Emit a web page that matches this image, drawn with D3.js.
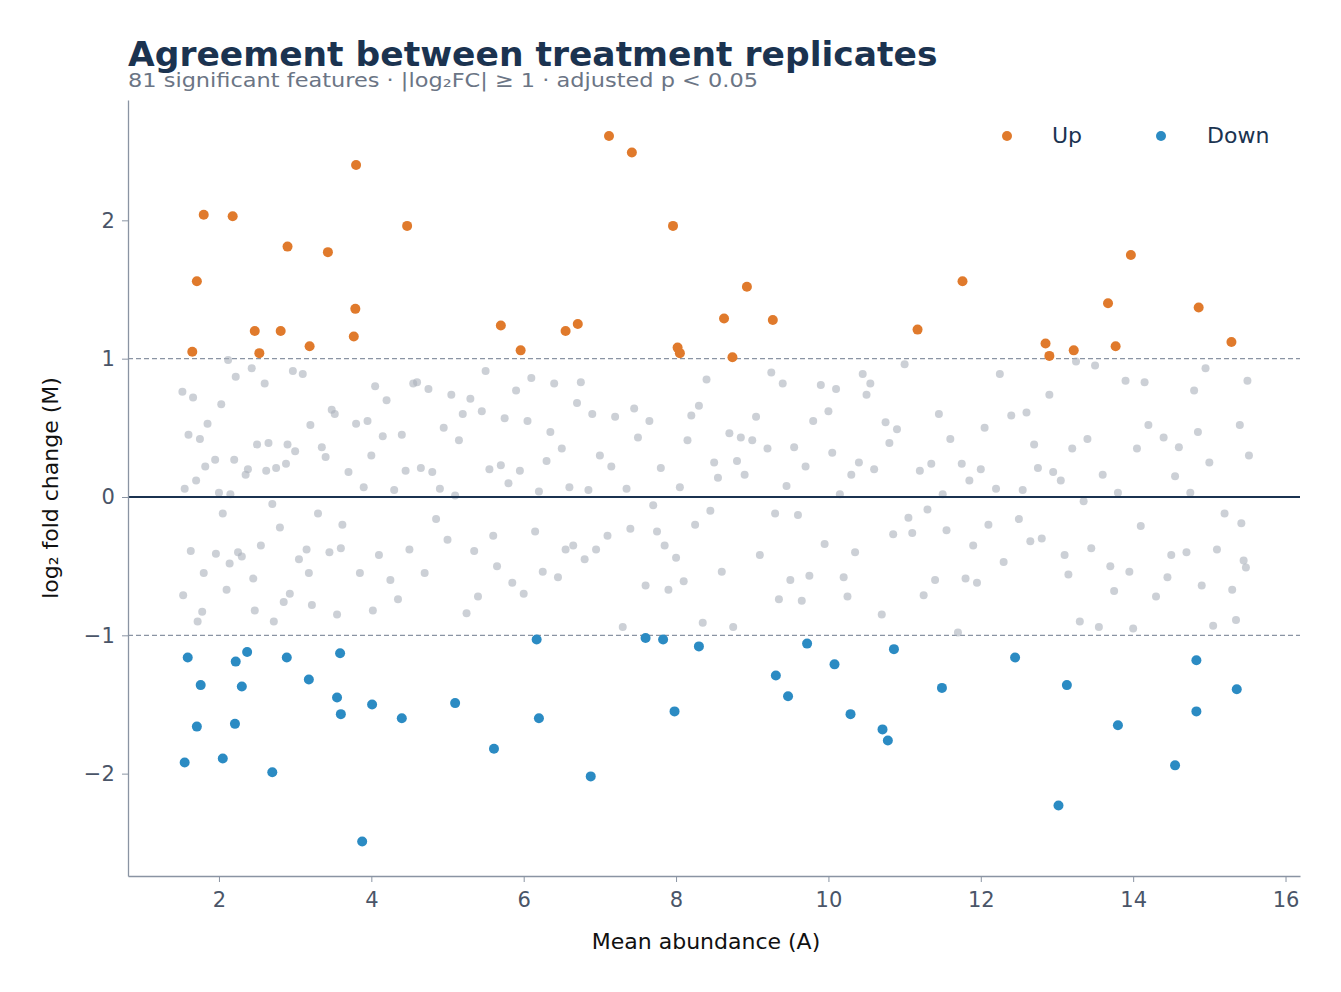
<!DOCTYPE html>
<html><head><meta charset="utf-8">
<script src="https://cdn.jsdelivr.net/npm/d3@7"></script>
<style>body{margin:0;background:#fff;font-family:"DejaVu Sans",sans-serif}</style>
</head><body><svg id="c" width="1341" height="992"></svg>
<script>
const upPts=[[1.80,2.04],[2.18,2.03],[1.71,1.56],[1.65,1.05],[2.47,1.20],[2.53,1.04],[2.81,1.20],[2.90,1.81],[3.19,1.09],[3.43,1.77],[3.80,2.40],[3.79,1.36],[3.77,1.16],[4.47,1.96],[5.70,1.24],[5.96,1.06],[6.55,1.20],[6.71,1.25],[7.12,2.61],[7.42,2.49],[7.96,1.96],[8.02,1.08],[8.05,1.04],[8.63,1.29],[8.74,1.01],[8.93,1.52],[9.27,1.28],[11.17,1.21],[11.76,1.56],[12.85,1.11],[12.90,1.02],[13.22,1.06],[13.67,1.40],[13.77,1.09],[13.97,1.75],[14.86,1.37],[15.29,1.12]];
const downPts=[[1.59,-1.16],[1.55,-1.92],[1.76,-1.36],[1.71,-1.66],[2.22,-1.19],[2.37,-1.12],[2.30,-1.37],[2.21,-1.64],[2.05,-1.89],[2.70,-1.99],[2.89,-1.16],[3.18,-1.32],[3.55,-1.45],[3.59,-1.13],[3.60,-1.57],[3.88,-2.49],[4.01,-1.50],[4.40,-1.60],[5.10,-1.49],[5.61,-1.82],[6.17,-1.03],[6.20,-1.60],[6.88,-2.02],[7.60,-1.02],[7.83,-1.03],[7.98,-1.55],[8.30,-1.08],[9.31,-1.29],[9.47,-1.44],[9.72,-1.06],[10.08,-1.21],[10.29,-1.57],[10.71,-1.68],[10.78,-1.76],[10.86,-1.10],[11.49,-1.38],[12.45,-1.16],[13.02,-2.23],[13.13,-1.36],[13.80,-1.65],[14.55,-1.94],[14.83,-1.18],[14.83,-1.55],[15.36,-1.39]];
const nsPts=[[1.52,0.76],[1.55,0.06],[1.53,-0.71],[1.6,0.45],[1.63,-0.39],[1.66,0.72],[1.7,0.12],[1.72,-0.9],[1.75,0.42],[1.78,-0.83],[1.82,0.22],[1.8,-0.55],[1.85,0.53],[1.95,0.27],[1.96,-0.41],[2.0,0.03],[2.03,0.67],[2.05,-0.12],[2.1,-0.67],[2.12,0.99],[2.14,-0.48],[2.15,0.02],[2.2,0.27],[2.22,0.87],[2.25,-0.4],[2.3,-0.43],[2.35,0.16],[2.38,0.2],[2.43,0.93],[2.45,-0.59],[2.47,-0.82],[2.5,0.38],[2.55,-0.35],[2.6,0.82],[2.62,0.19],[2.65,0.39],[2.7,-0.05],[2.72,-0.9],[2.75,0.21],[2.8,-0.22],[2.85,-0.76],[2.88,0.24],[2.9,0.38],[2.93,-0.7],[2.97,0.91],[3.0,0.33],[3.05,-0.45],[3.1,0.89],[3.15,-0.38],[3.18,-0.55],[3.2,0.52],[3.22,-0.78],[3.3,-0.12],[3.35,0.36],[3.4,0.29],[3.45,-0.4],[3.48,0.63],[3.52,0.6],[3.55,-0.85],[3.6,-0.37],[3.62,-0.2],[3.7,0.18],[3.8,0.53],[3.85,-0.55],[3.9,0.07],[3.95,0.55],[4.0,0.3],[4.02,-0.82],[4.05,0.8],[4.1,-0.42],[4.15,0.44],[4.2,0.7],[4.25,-0.6],[4.3,0.05],[4.35,-0.74],[4.4,0.45],[4.45,0.19],[4.5,-0.38],[4.55,0.82],[4.6,0.83],[4.65,0.21],[4.7,-0.55],[4.75,0.78],[4.8,0.18],[4.85,-0.16],[4.9,0.06],[4.95,0.5],[5.0,-0.31],[5.05,0.74],[5.1,0.01],[5.15,0.41],[5.2,0.6],[5.25,-0.84],[5.3,0.71],[5.35,-0.39],[5.4,-0.72],[5.45,0.62],[5.5,0.91],[5.55,0.2],[5.6,-0.28],[5.65,-0.5],[5.7,0.23],[5.75,0.57],[5.8,0.1],[5.85,-0.62],[5.9,0.77],[5.95,0.19],[6.0,-0.7],[6.05,0.55],[6.1,0.86],[6.15,-0.25],[6.2,0.04],[6.25,-0.54],[6.3,0.26],[6.35,0.47],[6.4,0.82],[6.45,-0.58],[6.5,0.35],[6.55,-0.38],[6.6,0.07],[6.65,-0.35],[6.7,0.68],[6.75,0.83],[6.8,-0.45],[6.85,0.05],[6.9,0.6],[6.95,-0.38],[7.0,0.3],[7.1,-0.28],[7.15,0.22],[7.2,0.58],[7.3,-0.94],[7.35,0.06],[7.4,-0.23],[7.45,0.64],[7.5,0.43],[7.6,-0.64],[7.65,0.55],[7.7,-0.06],[7.75,-0.25],[7.8,0.21],[7.85,-0.35],[7.9,-0.67],[8.0,-0.44],[8.05,0.07],[8.1,-0.61],[8.15,0.41],[8.2,0.59],[8.25,-0.2],[8.3,0.66],[8.35,-0.91],[8.4,0.85],[8.45,-0.1],[8.5,0.25],[8.55,0.14],[8.6,-0.54],[8.7,0.46],[8.75,-0.94],[8.8,0.26],[8.85,0.43],[8.9,0.16],[9.0,0.41],[9.05,0.58],[9.1,-0.42],[9.2,0.35],[9.25,0.9],[9.3,-0.12],[9.35,-0.74],[9.4,0.82],[9.45,0.08],[9.5,-0.6],[9.55,0.36],[9.6,-0.13],[9.65,-0.75],[9.7,0.22],[9.75,-0.57],[9.8,0.55],[9.9,0.81],[9.95,-0.34],[10.0,0.62],[10.05,0.32],[10.1,0.78],[10.15,0.02],[10.2,-0.58],[10.25,-0.72],[10.3,0.16],[10.35,-0.4],[10.4,0.25],[10.45,0.89],[10.5,0.74],[10.55,0.82],[10.6,0.2],[10.7,-0.85],[10.75,0.54],[10.8,0.39],[10.85,-0.27],[10.9,0.49],[11.0,0.96],[11.05,-0.15],[11.1,-0.26],[11.2,0.19],[11.25,-0.71],[11.3,-0.09],[11.35,0.24],[11.4,-0.6],[11.45,0.6],[11.5,0.02],[11.55,-0.24],[11.6,0.42],[11.7,-0.98],[11.75,0.24],[11.8,-0.59],[11.85,0.12],[11.9,-0.35],[11.95,-0.62],[12.0,0.2],[12.05,0.5],[12.1,-0.2],[12.2,0.06],[12.25,0.89],[12.3,-0.47],[12.4,0.59],[12.5,-0.16],[12.55,0.05],[12.6,0.61],[12.65,-0.32],[12.7,0.38],[12.75,0.21],[12.8,-0.3],[12.9,0.74],[12.95,0.18],[13.05,0.12],[13.1,-0.42],[13.15,-0.56],[13.2,0.35],[13.25,0.98],[13.3,-0.9],[13.35,-0.03],[13.4,0.42],[13.45,-0.37],[13.5,0.95],[13.55,-0.94],[13.6,0.16],[13.7,-0.5],[13.75,-0.68],[13.8,0.03],[13.9,0.84],[13.95,-0.54],[14.0,-0.95],[14.05,0.35],[14.1,-0.21],[14.15,0.83],[14.2,0.52],[14.3,-0.72],[14.4,0.43],[14.45,-0.58],[14.5,-0.42],[14.55,0.15],[14.6,0.36],[14.7,-0.4],[14.75,0.03],[14.8,0.77],[14.85,0.47],[14.9,-0.64],[14.95,0.93],[15.0,0.25],[15.05,-0.93],[15.1,-0.38],[15.2,-0.12],[15.3,-0.67],[15.35,-0.89],[15.4,0.52],[15.45,-0.46],[15.5,0.84],[15.52,0.3],[15.48,-0.51],[15.42,-0.19]];
const xTicks=[2,4,6,8,10,12,14,16];
const yTicks=[-2,-1,0,1,2];
const legendItems=[{label:"Up",color:"#e07a2c"},{label:"Down",color:"#2b8bc3"}];

const svg=d3.select("#c");
const L=128,R=1300,T=100,B=876;
const x=d3.scaleLinear().domain([0.806,16.19]).range([L,R]);
const y=d3.scaleLinear().domain([-2.74,2.87]).range([B,T]);
const axc="#8a94a3", txc="#4a5568";

svg.append("text").attr("x",128).attr("y",66).attr("font-size",34.5).attr("font-weight","bold").attr("fill","#1b3350").text("Agreement between treatment replicates");
svg.append("text").attr("x",128).attr("y",87).attr("font-size",20).attr("fill","#6b7585").attr("textLength",630).attr("lengthAdjust","spacingAndGlyphs").text("81 significant features · |log₂FC| ≥ 1 · adjusted p < 0.05");

[1,-1].forEach(v=>svg.append("line").attr("x1",L).attr("x2",R).attr("y1",y(v)).attr("y2",y(v)).attr("stroke","#8a94a3").attr("stroke-width",1.3).attr("stroke-dasharray","5,3"));
svg.append("g").selectAll("circle").data(nsPts).join("circle").attr("cx",d=>x(d[0])).attr("cy",d=>y(d[1])).attr("r",4).attr("fill","#aab1bb").attr("opacity",0.6);
svg.append("line").attr("x1",L).attr("x2",R).attr("y1",y(0)).attr("y2",y(0)).attr("stroke","#1b3350").attr("stroke-width",2);
svg.append("g").selectAll("circle").data(upPts).join("circle").attr("cx",d=>x(d[0])).attr("cy",d=>y(d[1])).attr("r",5).attr("fill",legendItems[0].color);
svg.append("g").selectAll("circle").data(downPts).join("circle").attr("cx",d=>x(d[0])).attr("cy",d=>y(d[1])).attr("r",5).attr("fill",legendItems[1].color);

const xa=svg.append("g").attr("transform",`translate(0,${B})`).call(d3.axisBottom(x).tickValues(xTicks).tickSize(6).tickSizeOuter(0));
const ya=svg.append("g").attr("transform",`translate(${L},0)`).call(d3.axisLeft(y).tickValues(yTicks).tickSize(6).tickSizeOuter(0).tickFormat(d=>d<0?"−"+Math.abs(d):d));
[xa,ya].forEach(a=>{a.select(".domain").attr("stroke",axc).attr("stroke-width",1.3);a.selectAll(".tick line").attr("stroke",axc);a.selectAll("text").attr("font-size",21).attr("fill",txc).attr("font-family","DejaVu Sans");});
xa.selectAll("text").attr("dy","1.05em");
ya.selectAll("text").attr("dx","-0.2em");
svg.append("text").attr("x",(L+R)/2-8).attr("y",949).attr("text-anchor","middle").attr("font-size",22).attr("fill","#111").text("Mean abundance (A)");
svg.append("text").attr("transform",`translate(58,${(T+B)/2}) rotate(-90)`).attr("text-anchor","middle").attr("font-size",22).attr("fill","#111").text("log₂ fold change (M)");

const lg=svg.append("g");
[[1007,1052],[1161,1207]].forEach((p,i)=>{
 lg.append("circle").attr("cx",p[0]).attr("cy",136).attr("r",5).attr("fill",legendItems[i].color);
 lg.append("text").attr("x",p[1]).attr("y",143).attr("font-size",22).attr("fill","#1b3350").text(legendItems[i].label);
});
</script></body></html>
